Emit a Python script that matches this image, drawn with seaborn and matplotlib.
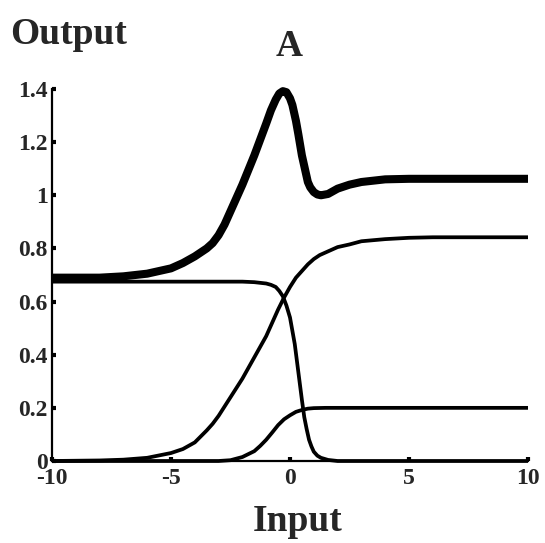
import matplotlib
matplotlib.use("Agg")
import matplotlib.pyplot as plt
import pandas as pd
import seaborn as sns

# total output (thick curve)
total_x = [-10, -9, -8, -7, -6, -5, -4.5, -4, -3.5, -3.25, -3, -2.75, -2.5, -2.25,
           -2, -1.75, -1.5, -1.25, -1, -0.8, -0.6, -0.45, -0.3, -0.15, 0, 0.1,
           0.25, 0.35, 0.5, 0.6, 0.75, 0.85, 1, 1.15, 1.3, 1.6, 2, 2.5, 3, 3.5,
           4, 5, 6, 8, 10]
total_y = [0.69, 0.69, 0.69, 0.695, 0.705, 0.725, 0.745, 0.77, 0.80, 0.82, 0.85,
           0.89, 0.94, 0.99, 1.04, 1.095, 1.15, 1.21, 1.27, 1.32, 1.36, 1.383,
           1.392, 1.388, 1.365, 1.34, 1.28, 1.23, 1.15, 1.11, 1.05, 1.03, 1.012,
           1.003, 1.0, 1.005, 1.025, 1.04, 1.05, 1.055, 1.06, 1.062, 1.062, 1.062,
           1.062]

# rising component to ~0.84
rise_x = [-10, -8, -7, -6, -5, -4.5, -4, -3.5, -3.25, -3, -2.75, -2.5, -2.25, -2,
          -1.75, -1.5, -1.25, -1, -0.75, -0.5, -0.25, 0, 0.25, 0.5, 0.75, 1, 1.25,
          1.5, 1.75, 2, 2.5, 3, 4, 5, 6, 10]
rise_y = [0.0, 0.002, 0.005, 0.012, 0.03, 0.045, 0.07, 0.115, 0.14, 0.17, 0.205,
          0.24, 0.275, 0.31, 0.35, 0.39, 0.43, 0.47, 0.52, 0.57, 0.615, 0.655,
          0.69, 0.715, 0.74, 0.76, 0.775, 0.785, 0.795, 0.805, 0.815, 0.827, 0.835,
          0.84, 0.842, 0.842]

# falling component from ~0.675
fall_x = [-10, -2, -1.5, -1, -0.8, -0.6, -0.45, -0.3, -0.15, 0, 0.1, 0.2, 0.3, 0.4,
          0.5, 0.6, 0.7, 0.8, 0.9, 1.0, 1.15, 1.3, 1.6, 2, 10]
fall_y = [0.675, 0.675, 0.673, 0.668, 0.663, 0.655, 0.64, 0.62, 0.585, 0.54, 0.49,
          0.44, 0.37, 0.30, 0.23, 0.165, 0.12, 0.08, 0.055, 0.035, 0.02, 0.012,
          0.004, 0.0, 0.0]

# small rising component to 0.2
small_x = [-10, -3, -2.5, -2, -1.5, -1.25, -1, -0.75, -0.5, -0.25, 0, 0.25, 0.5,
           0.75, 1, 1.5, 10]
small_y = [0.0, 0.0, 0.003, 0.015, 0.037, 0.057, 0.08, 0.107, 0.135, 0.157, 0.172,
           0.185, 0.192, 0.197, 0.199, 0.2, 0.2]

x_ticks = [-10, -5, 0, 5, 10]
y_ticks = [0, 0.2, 0.4, 0.6, 0.8, 1, 1.2, 1.4]
y_tick_labels = ["0", "0.2", "0.4", "0.6", "0.8", "1", "1.2", "1.4"]

sns.set_style("ticks")
plt.rcParams["font.family"] = ["Liberation Serif", "DejaVu Serif"]
plt.rcParams["font.weight"] = "bold"
plt.rcParams["axes.unicode_minus"] = False

fig = plt.figure(figsize=(5.45, 5.43), dpi=100)
ax = fig.add_axes([52 / 545, 1 - 461 / 543, 476 / 545, 372 / 543])

thin = [(fall_x, fall_y), (rise_x, rise_y), (small_x, small_y)]
for xs, ys in thin:
    df = pd.DataFrame({"x": xs, "y": ys})
    sns.lineplot(data=df, x="x", y="y", ax=ax, color="black", linewidth=2.7,
                 sort=False, estimator=None, clip_on=False,
                 solid_capstyle="butt", solid_joinstyle="round")
df = pd.DataFrame({"x": total_x, "y": total_y})
sns.lineplot(data=df, x="x", y="y", ax=ax, color="black", linewidth=5.8,
             sort=False, estimator=None, clip_on=False,
             solid_capstyle="butt", solid_joinstyle="round")

ax.set_xlim(-10, 10)
ax.set_ylim(0, 1.4)
ax.set_xticks(x_ticks)
ax.set_xticklabels([str(t) for t in x_ticks])
ax.set_yticks(y_ticks)
ax.set_yticklabels(y_tick_labels)
ax.set_xlabel("")
ax.set_ylabel("")
ax.tick_params(direction="in", length=3, width=3, labelsize=17, pad=3,
               color="black")
ax.tick_params(axis="x", pad=5)
for lab in ax.get_xticklabels() + ax.get_yticklabels():
    lab.set_fontweight("bold")
sns.despine(ax=ax)
for side in ("left", "bottom"):
    ax.spines[side].set_linewidth(1.6)
    ax.spines[side].set_color("black")

fig.text(10 / 545, 1 - 44 / 543, "Output", fontsize=27, fontweight="bold",
         ha="left", va="baseline")
fig.text(289 / 545, 1 - 56 / 543, "A", fontsize=27, fontweight="bold",
         ha="center", va="baseline")
fig.text(298 / 545, 1 - 531 / 543, "Input", fontsize=27, fontweight="bold",
         ha="center", va="baseline")

fig.savefig("out.png", dpi=100)
